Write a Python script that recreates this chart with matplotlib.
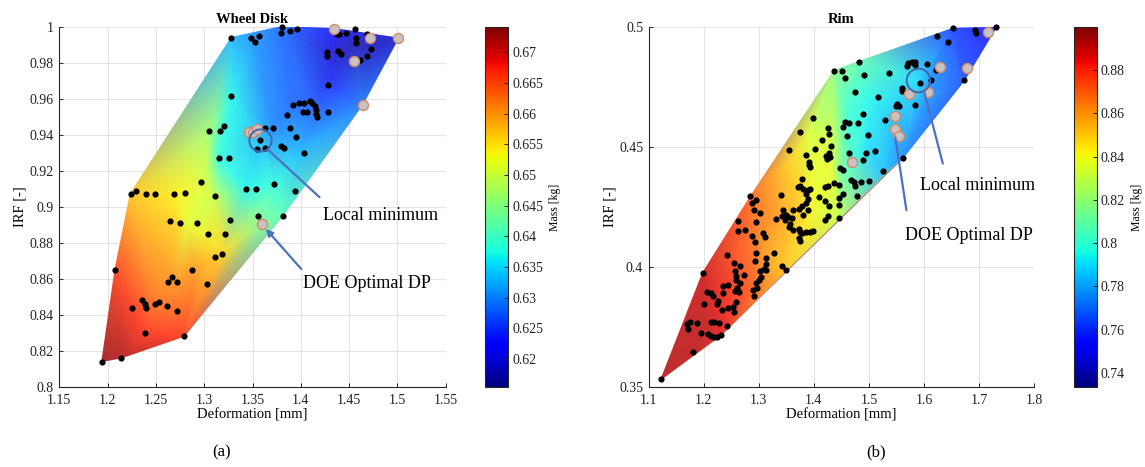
import numpy as np
import matplotlib
matplotlib.use('Agg')
import matplotlib.pyplot as plt
import matplotlib.tri as mtri
from matplotlib.colors import Normalize, ListedColormap
from matplotlib.cm import ScalarMappable

plt.rcParams['font.family'] = ['Liberation Serif', 'DejaVu Serif']

# ---------------- Wheel Disk (a) ----------------
wd_x = [1.194, 1.214, 1.279, 1.239, 1.225, 1.236, 1.239, 1.240, 1.249, 1.253, 1.261, 1.272,
        1.208, 1.263, 1.267, 1.272, 1.287, 1.303, 1.311, 1.318, 1.304, 1.321, 1.265, 1.275,
        1.293, 1.327, 1.356, 1.382, 1.224, 1.229, 1.240, 1.249, 1.269, 1.280, 1.297, 1.311,
        1.343, 1.354, 1.372, 1.394, 1.315, 1.326, 1.305, 1.316, 1.320, 1.328, 1.355, 1.358,
        1.363, 1.363, 1.371, 1.379, 1.383, 1.389, 1.395, 1.403, 1.386, 1.392, 1.398, 1.403,
        1.402, 1.406, 1.410, 1.412, 1.415, 1.416, 1.416, 1.417, 1.428, 1.428, 1.328, 1.348,
        1.353, 1.357, 1.380, 1.379, 1.389, 1.396, 1.427, 1.427, 1.437, 1.439, 1.447, 1.456,
        1.457, 1.457, 1.438, 1.442, 1.461, 1.468, 1.468, 1.473]
wd_y = [0.814, 0.816, 0.828, 0.830, 0.844, 0.848, 0.846, 0.844, 0.846, 0.847, 0.845, 0.842,
        0.865, 0.858, 0.861, 0.858, 0.865, 0.857, 0.872, 0.874, 0.885, 0.885, 0.892, 0.891,
        0.891, 0.893, 0.895, 0.895, 0.907, 0.909, 0.907, 0.907, 0.907, 0.908, 0.914, 0.906,
        0.910, 0.910, 0.913, 0.909, 0.927, 0.927, 0.942, 0.942, 0.945, 0.962, 0.932, 0.937,
        0.933, 0.944, 0.944, 0.934, 0.933, 0.944, 0.939, 0.930, 0.951, 0.957, 0.958, 0.958,
        0.953, 0.953, 0.959, 0.958, 0.956, 0.954, 0.952, 0.950, 0.953, 0.968, 0.994, 0.994,
        0.992, 0.995, 1.000, 0.997, 0.998, 0.999, 0.986, 0.984, 0.996, 0.996, 0.997, 0.999,
        0.994, 0.991, 0.987, 0.985, 0.982, 0.984, 0.996, 0.988]
wd_pink_x = [1.360, 1.346, 1.3505, 1.3546, 1.464, 1.4344, 1.472, 1.501, 1.4554]
wd_pink_y = [0.8907, 0.9417, 0.9415, 0.9435, 0.957, 0.9993, 0.9941, 0.994, 0.9811]

# surface nodes (deformation, IRF, mass)
wd_sx = [1.194, 1.214, 1.279, 1.382, 1.464, 1.501, 1.4344, 1.380, 1.328, 1.2235, 1.2076,
         1.250, 1.270, 1.300, 1.320, 1.270, 1.285, 1.310, 1.300, 1.305, 1.315, 1.343, 1.360,
         1.370, 1.328, 1.350, 1.390, 1.410, 1.430, 1.430, 1.456, 1.470, 1.400, 1.355, 1.372,
         1.360, 1.240, 1.290, 1.308]
wd_sy = [0.814, 0.816, 0.828, 0.8954, 0.957, 0.994, 0.9993, 1.0004, 0.9943, 0.9074, 0.865,
         0.845, 0.860, 0.860, 0.875, 0.907, 0.890, 0.905, 0.914, 0.942, 0.927, 0.910, 0.937,
         0.943, 0.962, 0.993, 0.958, 0.958, 0.968, 0.985, 0.990, 0.988, 0.930, 0.898, 0.913,
         0.891, 0.830, 0.865, 0.925]
wd_mass = [0.673, 0.672, 0.667, 0.641, 0.629, 0.619, 0.623, 0.628, 0.633, 0.657, 0.666,
           0.663, 0.660, 0.659, 0.656, 0.654, 0.652, 0.650, 0.651, 0.647, 0.638, 0.637, 0.633,
           0.630, 0.637, 0.631, 0.628, 0.627, 0.624, 0.620, 0.618, 0.619, 0.633, 0.643, 0.638,
           0.644, 0.667, 0.660, 0.645]
wd_xticks = [1.15, 1.2, 1.25, 1.3, 1.35, 1.4, 1.45, 1.5, 1.55]
wd_xlabels = ['1.15', '1.2', '1.25', '1.3', '1.35', '1.4', '1.45', '1.5', '1.55']
wd_yticks = [0.8, 0.82, 0.84, 0.86, 0.88, 0.9, 0.92, 0.94, 0.96, 0.98, 1.0]
wd_ylabels = ['0.8', '0.82', '0.84', '0.86', '0.88', '0.9', '0.92', '0.94', '0.96', '0.98', '1']
wd_cticks = [0.62, 0.625, 0.63, 0.635, 0.64, 0.645, 0.65, 0.655, 0.66, 0.665, 0.67]
wd_clabels = ['0.62', '0.625', '0.63', '0.635', '0.64', '0.645', '0.65', '0.655', '0.66', '0.665', '0.67']
wd_crange = (0.6155, 0.6741)

# ---------------- Rim (b) ----------------
rim_x = [1.1220, 1.1811, 1.1690, 1.1750, 1.1720, 1.1884, 1.1944, 1.2004, 1.1980, 1.2052, 1.2125,
         1.2161, 1.2125, 1.2185, 1.2281, 1.2082, 1.2125, 1.2185, 1.2245, 1.2305, 1.2233, 1.2263,
         1.2323, 1.2341, 1.2353, 1.2444, 1.2425, 1.2444, 1.2522, 1.2425, 1.2546, 1.2564, 1.2582,
         1.2594, 1.2564, 1.2606, 1.2642, 1.2594, 1.2546, 1.2654, 1.2666, 1.2727, 1.2895, 1.2907,
         1.2955, 1.2968, 1.3004, 1.2925, 1.2955, 1.2925, 1.2871, 1.3046, 1.3016, 1.3088, 1.3136,
         1.3124, 1.3136, 1.3076, 1.3106, 1.3275, 1.3426, 1.3498, 1.2613, 1.2624,
         1.3993, 1.3751, 1.3546, 1.4252, 1.4270, 1.4150, 1.4312, 1.4270, 1.4221, 1.4294, 1.4234,
         1.3848, 1.4029, 1.3908, 1.3932, 1.3920, 1.3781, 1.3751, 1.3709, 1.3811, 1.3890, 1.3932,
         1.3848, 1.3890, 1.3860, 1.3890, 1.3787, 1.3799, 1.3727, 1.3618, 1.3497, 1.3425, 1.3467,
         1.3527, 1.3606, 1.3558, 1.3546, 1.3618, 1.3727, 1.3751, 1.3727, 1.3787, 1.3860, 1.3932,
         1.3993, 1.3739, 1.3305, 1.3407, 1.2907, 1.2883, 1.2955, 1.2847, 1.3028, 1.2943, 1.2745,
         1.3437, 1.4210, 1.4270, 1.4101, 1.4451, 1.4523, 1.4463, 1.4210, 1.4252, 1.4372, 1.4451,
         1.4252, 1.4210, 1.4463, 1.4777, 1.4722, 1.4753, 1.4674, 1.4855, 1.4993, 1.4897, 1.4945,
         1.5114, 1.5247, 1.4475, 1.4535, 1.4644, 1.4595, 1.4632, 1.4795, 1.4535, 1.4571, 1.4981,
         1.4891, 1.5289,
         1.4363, 1.4513, 1.4559, 1.4820, 1.4918, 1.4755, 1.5166, 1.5362, 1.5493, 1.5519, 1.5545,
         1.5604, 1.5610, 1.5689, 1.5715, 1.5780, 1.5845, 1.5832, 1.6061, 1.5930, 1.6133, 1.5832,
         1.6224, 1.6237, 1.6433, 1.6530, 1.6930, 1.6940, 1.7315, 1.6733, 1.5617]
rim_y = [0.3530, 0.3644, 0.3760, 0.3769, 0.3741, 0.3766, 0.3722, 0.3847, 0.3975, 0.3894, 0.3889,
         0.3880, 0.3772, 0.3769, 0.3765, 0.3720, 0.3710, 0.3706, 0.3709, 0.3714, 0.3847, 0.3857,
         0.3819, 0.3919, 0.3891, 0.3926, 0.3752, 0.3829, 0.3833, 0.4051, 0.4016, 0.3982, 0.3961,
         0.3944, 0.3898, 0.3912, 0.3894, 0.3852, 0.3811, 0.3933, 0.4002, 0.3967, 0.3905, 0.3877,
         0.3933, 0.3912, 0.3947, 0.4023, 0.4058, 0.4104, 0.4128, 0.3957, 0.3982, 0.3992, 0.3989,
         0.4010, 0.4037, 0.4142, 0.4125, 0.4058, 0.4002, 0.3986, 0.4193, 0.4148,
         0.4621, 0.4561, 0.4486, 0.4580, 0.4553, 0.4529, 0.4506, 0.4475, 0.4464, 0.4459, 0.4450,
         0.4468, 0.4491, 0.4436, 0.4417, 0.4427, 0.4366, 0.4338, 0.4333, 0.4325, 0.4322, 0.4325,
         0.4305, 0.4283, 0.4266, 0.4239, 0.4253, 0.4218, 0.4241, 0.4239, 0.4218, 0.4214, 0.4197,
         0.4208, 0.4204, 0.4180, 0.4167, 0.4155, 0.4158, 0.4144, 0.4121, 0.4142, 0.4144, 0.4144,
         0.4148, 0.4107, 0.4200, 0.4301, 0.4236, 0.4266, 0.4280, 0.4294, 0.4225, 0.4186, 0.4155,
         0.4239, 0.4273, 0.4255, 0.4291, 0.4257, 0.4306, 0.4289, 0.4333, 0.4336, 0.4352, 0.4343,
         0.4213, 0.4197, 0.4204, 0.4297, 0.4356, 0.4338, 0.4363, 0.4356, 0.4360, 0.4448, 0.4475,
         0.4484, 0.4400, 0.4412, 0.4403, 0.4475, 0.4545, 0.4600, 0.4600, 0.4583, 0.4606, 0.4551,
         0.4639, 0.4614,
         0.4819, 0.4819, 0.4788, 0.4856, 0.4801, 0.4728, 0.4707, 0.4808, 0.4672, 0.4681, 0.4672,
         0.4746, 0.4732, 0.4839, 0.4850, 0.4854, 0.4857, 0.4843, 0.4846, 0.4769, 0.4781, 0.4675,
         0.4822, 0.4965, 0.4940, 0.4996, 0.4989, 0.4975, 0.5000, 0.4778, 0.4454]
rim_pink_x = [1.469, 1.547, 1.548, 1.555, 1.5734, 1.608, 1.6289, 1.6786, 1.7158]
rim_pink_y = [0.4437, 0.4628, 0.4577, 0.4545, 0.4722, 0.4731, 0.4833, 0.4831, 0.4979]

rim_sx = [1.1220, 1.1811, 1.2305, 1.3498, 1.4463, 1.5247, 1.5617, 1.6733, 1.7315, 1.6530,
          1.4820, 1.4363, 1.2847, 1.1980,
          1.200, 1.250, 1.260, 1.290, 1.310, 1.300, 1.330, 1.340, 1.380, 1.370, 1.400, 1.360,
          1.390, 1.420, 1.430, 1.450, 1.470, 1.460, 1.500, 1.500, 1.540, 1.560, 1.590, 1.620,
          1.650, 1.700, 1.600]
rim_sy = [0.3530, 0.3644, 0.3714, 0.3986, 0.4204, 0.4400, 0.4454, 0.4778, 0.5000, 0.4996,
          0.4856, 0.4819, 0.4294, 0.3975,
          0.375, 0.390, 0.405, 0.390, 0.400, 0.415, 0.405, 0.420, 0.415, 0.430, 0.425, 0.445,
          0.455, 0.465, 0.445, 0.435, 0.445, 0.465, 0.470, 0.450, 0.460, 0.470, 0.478, 0.485,
          0.490, 0.495, 0.470]
rim_mass = [0.893, 0.892, 0.886, 0.851, 0.830, 0.785, 0.775, 0.765, 0.752, 0.762,
            0.808, 0.818, 0.870, 0.889,
            0.891, 0.880, 0.875, 0.871, 0.860, 0.865, 0.855, 0.858, 0.846, 0.851, 0.840, 0.848,
            0.835, 0.825, 0.838, 0.815, 0.800, 0.800, 0.795, 0.790, 0.785, 0.788, 0.790, 0.775,
            0.768, 0.758, 0.778]
rim_xticks = [1.1, 1.2, 1.3, 1.4, 1.5, 1.6, 1.7, 1.8]
rim_xlabels = ['1.1', '1.2', '1.3', '1.4', '1.5', '1.6', '1.7', '1.8']
rim_yticks = [0.35, 0.4, 0.45, 0.5]
rim_ylabels = ['0.35', '0.4', '0.45', '0.5']
rim_cticks = [0.74, 0.76, 0.78, 0.8, 0.82, 0.84, 0.86, 0.88]
rim_clabels = ['0.74', '0.76', '0.78', '0.8', '0.82', '0.84', '0.86', '0.88']
rim_crange = (0.7337, 0.8998)

AX_COL = '#262626'
ARROW_COL = '#4a72c0'

# surface colours: jet seen through a slightly transparent face (blended with white)
_jet = plt.get_cmap('jet')(np.linspace(0, 1, 256))
_soft = _jet.copy()
_soft[:, :3] = _jet[:, :3] * 0.82 + 0.18
SOFT_JET = ListedColormap(_soft)

fig = plt.figure(figsize=(11.45, 4.67), dpi=100)
axL = fig.add_axes([0.0518, 0.172, 0.3375, 0.7696])
caxL = fig.add_axes([0.4238, 0.172, 0.0198, 0.7696])
axR = fig.add_axes([0.5666, 0.172, 0.3365, 0.7696])
caxR = fig.add_axes([0.9383, 0.172, 0.0196, 0.7696])


def panel(ax, cax, title, sx, sy, sm, crange, px, py, pkx, pky,
          xt, xl, yt, yl, ct, cl, xlim, ylim):
    norm = Normalize(vmin=crange[0], vmax=crange[1])
    tri = mtri.Triangulation(sx, sy)
    ax.tripcolor(tri, sm, shading='gouraud', cmap=SOFT_JET, norm=norm, zorder=1)
    ax.scatter(px, py, s=20, c='black', zorder=4, clip_on=False, linewidths=0)
    ax.scatter(pkx, pky, s=52, facecolor='#c8c3c3', edgecolor='#d58866', linewidths=1.0,
               zorder=5, clip_on=False)
    ax.set_xlim(*xlim)
    ax.set_ylim(*ylim)
    ax.set_xticks(xt)
    ax.set_xticklabels(xl)
    ax.set_yticks(yt)
    ax.set_yticklabels(yl)
    ax.grid(True, color='#e3e3e3', lw=0.8, zorder=0)
    ax.set_axisbelow(True)
    for s in ['top', 'right']:
        ax.spines[s].set_visible(False)
    for s in ['left', 'bottom']:
        ax.spines[s].set_color(AX_COL)
        ax.spines[s].set_linewidth(0.8)
    ax.tick_params(direction='in', length=3, width=0.7, colors=AX_COL, labelsize=10,
                   labelcolor='#222222')
    ax.tick_params(axis='x', pad=5)
    ax.tick_params(axis='y', pad=4)
    ax.set_title(title, fontsize=10.5, fontweight='bold', pad=3)
    ax.set_xlabel('Deformation [mm]', fontsize=10.5, labelpad=1)
    ax.set_ylabel('IRF [-]', fontsize=10.5, labelpad=2)

    sm_ = ScalarMappable(norm=norm, cmap='jet')
    cb = fig.colorbar(sm_, cax=cax)
    cb.set_ticks(ct)
    cb.set_ticklabels(cl)
    cb.outline.set_edgecolor(AX_COL)
    cb.outline.set_linewidth(0.8)
    cax.tick_params(direction='in', length=3, width=0.7, colors=AX_COL, labelsize=10,
                    labelcolor='#222222', pad=3)
    cb.set_label('Mass [kg]', fontsize=8.5, labelpad=4)


panel(axL, caxL, 'Wheel Disk', wd_sx, wd_sy, wd_mass, wd_crange, wd_x, wd_y,
      wd_pink_x, wd_pink_y, wd_xticks, wd_xlabels, wd_yticks, wd_ylabels,
      wd_cticks, wd_clabels, (1.15, 1.55), (0.8, 1.0))
panel(axR, caxR, 'Rim', rim_sx, rim_sy, rim_mass, rim_crange, rim_x, rim_y,
      rim_pink_x, rim_pink_y, rim_xticks, rim_xlabels, rim_yticks, rim_ylabels,
      rim_cticks, rim_clabels, (1.1, 1.8), (0.35, 0.5))

# local minimum circles
axL.plot([1.358], [0.937], 'o', ms=16, mfc='none', mec='#4466aa', mew=1.4, zorder=6)
axR.plot([1.590], [0.4781], 'o', ms=17, mfc='none', mec='#4466aa', mew=1.4, zorder=6)

# annotations (a)
axL.annotate('', xy=(1.3642, 0.9328), xytext=(1.4214, 0.9044),
             arrowprops=dict(arrowstyle='-', color=ARROW_COL, lw=1.6), zorder=6)
axL.annotate('', xy=(1.3638, 0.8878), xytext=(1.4004, 0.8655),
             arrowprops=dict(arrowstyle='-|>', color=ARROW_COL, lw=1.6,
                             mutation_scale=10, shrinkA=0, shrinkB=0), zorder=6)
axL.text(1.4225, 0.8955, 'Local minimum', fontsize=13, va='center', ha='left')
axL.text(1.4025, 0.8572, 'DOE Optimal DP', fontsize=13, va='center', ha='left')

# annotations (b)
axR.annotate('', xy=(1.5995, 0.4739), xytext=(1.6355, 0.4420),
             arrowprops=dict(arrowstyle='-', color=ARROW_COL, lw=1.6), zorder=6)
axR.annotate('', xy=(1.5473, 0.4551), xytext=(1.5689, 0.4225),
             arrowprops=dict(arrowstyle='-', color=ARROW_COL, lw=1.6), zorder=6)
axR.text(1.592, 0.4340, 'Local minimum', fontsize=13, va='center', ha='left')
axR.text(1.5656, 0.4130, 'DOE Optimal DP', fontsize=13, va='center', ha='left')

fig.text(222 / 1145, 1 - 452 / 467, '(a)', fontsize=12, ha='center', va='center')
fig.text(876 / 1145, 1 - 452 / 467, '(b)', fontsize=12, ha='center', va='center')

fig.savefig('out.png', dpi=100)
